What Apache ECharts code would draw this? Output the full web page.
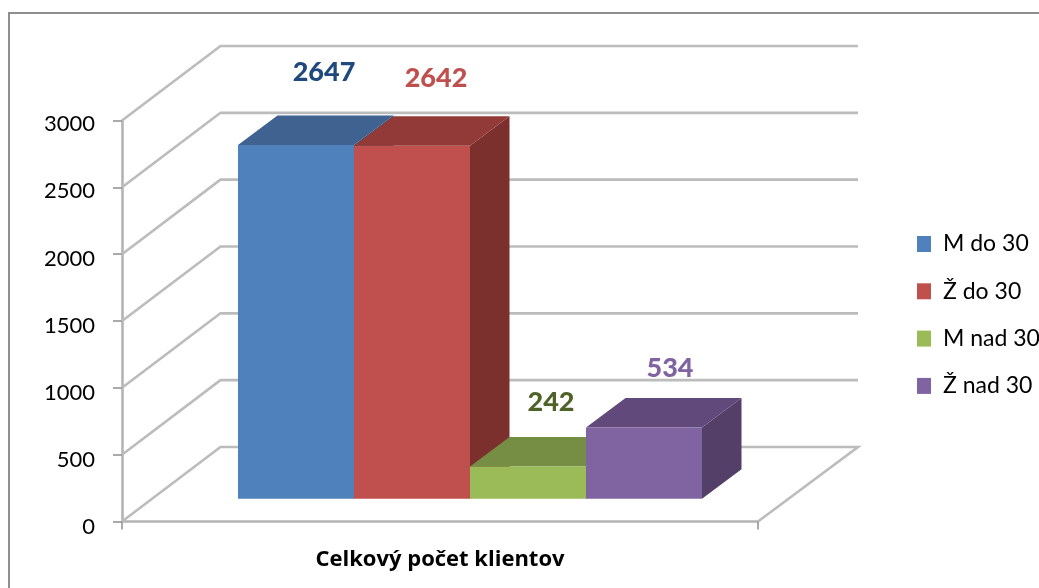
<!DOCTYPE html>
<html>
<head>
<meta charset="utf-8">
<style>html,body{margin:0;padding:0;background:#fff;overflow:hidden}#c{width:1039px;height:588px}</style>
<script src="https://cdn.jsdelivr.net/npm/echarts@6/dist/echarts.min.js"></script>
</head>
<body>
<div id="c"></div>
<script>
const categories = ['Celkový počet klientov'];
const seriesNames = ['M do 30', 'Ž do 30', 'M nad 30', 'Ž nad 30'];
const seriesValues = [2647, 2642, 242, 534];
const yTicks = [0, 500, 1000, 1500, 2000, 2500, 3000];

// styling (not data)
const FONT = 'Lato';
const faceColors = ['#4f81bd', '#c0504d', '#9bbb59', '#8064a2'];
const topColors = ['#3f6290', '#923a38', '#758e43', '#614a7b'];
const sideColors = ['#2f4a6d', '#7b302e', '#5f7536', '#543f69'];
const labelColors = ['#1f497d', '#c0504d', '#4f6228', '#8064a2'];
const labelShift = [[28, -73], [24, -67], [23, -64], [26, -59]];
const WALL = [98.5, -74.5];      // offset of back wall from the front plane
const WALL_RIGHT = 100;          // offset of the far right end of the back wall
const BAR_FRONT = [30, -22.7];   // offset of the bar front from the front plane
const BAR_DEPTH = [39.5, -29.5]; // depth of a bar
const BAR_RATIO = 116 / 636;     // bar width as a share of the category band

function barItem(i) {
  return function (params, api) {
    const top = api.coord([0, api.value(1)]);
    const base = api.coord([0, 0]);
    const w = api.size([1, 0])[0] * BAR_RATIO;
    const x0 = top[0] + BAR_FRONT[0] + (i - 2) * w;
    const x1 = x0 + w;
    const yT = top[1] + BAR_FRONT[1];
    const yB = base[1] + BAR_FRONT[1];
    const dx = BAR_DEPTH[0], dy = BAR_DEPTH[1];
    return {
      type: 'group',
      children: [
        { type: 'polygon', shape: { points: [[x1, yT], [x1 + dx, yT + dy], [x1 + dx, yB + dy], [x1, yB]] }, style: { fill: sideColors[i] } },
        { type: 'polygon', shape: { points: [[x0, yT], [x0 + dx, yT + dy], [x1 + dx, yT + dy], [x1, yT]] }, style: { fill: topColors[i] } },
        { type: 'rect', shape: { x: x0, y: yT, width: w, height: yB - yT }, style: { fill: faceColors[i] } },
        { type: 'text', z2: 50, style: {
            x: (x0 + x1) / 2 + labelShift[i][0], y: yT + labelShift[i][1],
            text: String(api.value(1)), fill: labelColors[i],
            font: '900 27px ' + FONT, align: 'center', verticalAlign: 'middle' } }
      ]
    };
  };
}

function wallItem(params, api) {
  const p = api.coord([0, api.value(1)]);
  const band = api.size([1, 0])[0];
  const left = p[0] - band / 2;
  const right = left + band;
  const isFloor = api.value(1) === 0;
  const pts = [[left, p[1]], [left + WALL[0], p[1] + WALL[1]], [right + WALL_RIGHT, p[1] + WALL[1]]];
  if (isFloor) pts.push([right, p[1]]);
  return {
    type: 'polyline',
    shape: { points: pts },
    style: { stroke: '#bcbcbc', lineWidth: 2.6, fill: null }
  };
}

const series = [{
  type: 'custom',
  name: 'walls',
  silent: true,
  clip: false,
  z: 1,
  renderItem: wallItem,
  data: yTicks.map(v => [0, v])
}].concat(seriesNames.map((name, i) => ({
  type: 'custom',
  name: name,
  clip: false,
  z: 2 + i,
  itemStyle: { color: faceColors[i] },
  renderItem: barItem(i),
  data: [[0, seriesValues[i]]]
})));

const yMin = yTicks[0];
const yMax = yTicks[yTicks.length - 1];
const yStep = yTicks[1] - yTicks[0];

const chart = echarts.init(document.getElementById('c'), null, { renderer: 'canvas' });
chart.setOption({
  animation: false,
  backgroundColor: '#fff',
  textStyle: { fontFamily: FONT },
  graphic: [{
    type: 'rect', z: -10, silent: true,
    shape: { x: 9, y: 13, width: 1050, height: 600 },
    style: { fill: '#fff', stroke: '#8e8e8e', lineWidth: 2 }
  }],
  grid: [
    { left: 122, top: 120.5, width: 636, height: 401 },
    // the tick labels in the reference drift slightly away from their ticks: they use a slightly taller label scale
    { left: 122, top: 124, width: 636, height: 403.4 }
  ],
  xAxis: [{
    type: 'category',
    data: categories,
    axisLine: { lineStyle: { color: '#b4b4b4', width: 2.6 } },
    axisTick: { show: true, length: 8, lineStyle: { color: '#8e8e8e', width: 1.5 } },
    axisLabel: { margin: 27, fontFamily: 'Open Sans', fontWeight: 'bold', fontSize: 22, color: '#000' },
    splitLine: { show: false }
  }, {
    type: 'category', gridIndex: 1, data: categories, show: false
  }],
  yAxis: [{
    type: 'value',
    min: yMin, max: yMax, interval: yStep,
    axisLine: { show: true, lineStyle: { color: '#b4b4b4', width: 2.6 } },
    axisTick: { show: true, length: 9, lineStyle: { color: '#8e8e8e', width: 1.5 } },
    axisLabel: { show: false },
    splitLine: { show: false }
  }, {
    type: 'value', gridIndex: 1,
    min: yMin, max: yMax, interval: yStep,
    axisLine: { show: false },
    axisTick: { show: false },
    axisLabel: { margin: 27, fontFamily: FONT, fontSize: 22, color: '#000', formatter: v => String(v) },
    splitLine: { show: false }
  }],
  legend: {
    orient: 'vertical',
    left: 917,
    top: 232.5,
    padding: 0,
    data: seriesNames,
    icon: 'rect',
    symbolKeepAspect: false,
    itemWidth: 14,
    itemHeight: 16,
    itemGap: 24.3,
    selectedMode: false,
    textStyle: { fontFamily: FONT, fontSize: 23, color: '#000', padding: [0, 0, 0, 7] }
  },
  series: series
});
</script>
</body>
</html>
